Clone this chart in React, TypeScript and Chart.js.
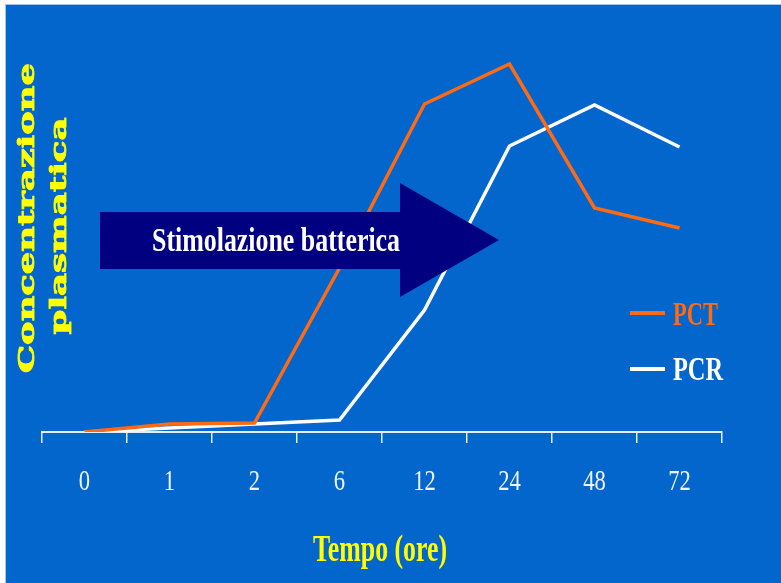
import { useEffect, useRef } from "react";
import { Chart, registerables } from "chart.js";

Chart.register(...registerables);

// Sampling times (hours) and relative plasma concentrations
const hours = ["0", "1", "2", "6", "12", "24", "48", "72"];
const pctValues = [0, 2, 2.25, 41, 82, 92, 56, 51];
const pcrValues = [0, 1, 2, 3, 30.5, 71.5, 81.75, 71.25];
const seriesNames = ["PCT", "PCR"];
const yTitleLines = ["Concentrazione", "plasmatica"];
const xTitle = "Tempo (ore)";
const arrowLabel = "Stimolazione batterica";

const BG = "#0366CC";
const ORANGE = "#FF6A12";
const WHITE = "#FFFFFF";
const YELLOW = "#FFFF00";
const NAVY = "#000080";
const AXIS = "#E4ECF8";

// Draws text centred on cx, stretched or squeezed horizontally to a given width
function fitText(
  ctx: CanvasRenderingContext2D,
  text: string,
  cx: number,
  baseline: number,
  font: string,
  width: number,
  color: string,
  outline = 0
) {
  ctx.save();
  ctx.font = font;
  const w = ctx.measureText(text).width;
  ctx.translate(cx, baseline);
  ctx.scale(width / w, 1);
  ctx.fillStyle = color;
  ctx.textAlign = "left";
  ctx.textBaseline = "alphabetic";
  ctx.fillText(text, -w / 2, 0);
  if (outline > 0) {
    ctx.strokeStyle = color;
    ctx.lineWidth = outline;
    ctx.lineJoin = "round";
    ctx.strokeText(text, -w / 2, 0);
  }
  ctx.restore();
}

function scaledText(
  ctx: CanvasRenderingContext2D,
  text: string,
  cx: number,
  baseline: number,
  font: string,
  sx: number,
  color: string
) {
  ctx.save();
  ctx.font = font;
  ctx.translate(cx, baseline);
  ctx.scale(sx, 1);
  ctx.fillStyle = color;
  ctx.textAlign = "center";
  ctx.textBaseline = "alphabetic";
  ctx.fillText(text, 0, 0);
  ctx.restore();
}

const backgroundPlugin = {
  id: "slideBackground",
  beforeDraw(chart: Chart) {
    const { ctx, width, height } = chart;
    ctx.save();
    ctx.fillStyle = "#FFFFFF";
    ctx.fillRect(0, 0, width, height);
    ctx.fillStyle = "#9FC3EC";
    ctx.fillRect(5, 4, width - 5, height - 4);
    ctx.fillStyle = BG;
    ctx.fillRect(6, 5, width - 6, height - 5);
    ctx.restore();
  },
};

const overlayPlugin = {
  id: "slideOverlay",
  afterDatasetsDraw(chart: Chart) {
    const { ctx } = chart;
    const xScale = chart.scales.x;

    // category labels under the axis
    hours.forEach((label, i) => {
      const x = xScale.getPixelForTick(i);
      scaledText(ctx, label, x, 490, "29px 'Liberation Serif'", 0.78, "#F2F4FA");
    });

    // x axis title
    fitText(ctx, xTitle, 380, 561, "bold 38px 'Liberation Serif'", 134, YELLOW);

    // y axis title, two rotated lines
    const yLines = [
      { text: yTitleLines[0], bx: 34, cy: 218, w: 310 },
      { text: yTitleLines[1], bx: 66, cy: 226, w: 217 },
    ];
    yLines.forEach((l) => {
      ctx.save();
      ctx.translate(l.bx, l.cy);
      ctx.rotate(-Math.PI / 2);
      fitText(ctx, l.text, 0, 0, "bold 22px 'DejaVu Serif'", l.w, YELLOW, 0.8);
      ctx.restore();
    });

    // "bacterial stimulation" arrow, drawn above the curves
    ctx.save();
    ctx.fillStyle = NAVY;
    ctx.beginPath();
    ctx.moveTo(100, 212);
    ctx.lineTo(400, 212);
    ctx.lineTo(400, 183);
    ctx.lineTo(499, 240);
    ctx.lineTo(400, 297);
    ctx.lineTo(400, 269);
    ctx.lineTo(100, 269);
    ctx.closePath();
    ctx.fill();
    ctx.restore();
    fitText(ctx, arrowLabel, 276, 251, "bold 34px 'Liberation Serif'", 248, WHITE);

    // legend
    const legend = [
      { ds: 0, y: 313, base: 325, w: 45 },
      { ds: 1, y: 369, base: 380, w: 50 },
    ];
    legend.forEach((item) => {
      const ds = chart.data.datasets[item.ds] as any;
      ctx.save();
      ctx.strokeStyle = ds.borderColor;
      ctx.lineWidth = 4;
      ctx.beginPath();
      ctx.moveTo(630, item.y);
      ctx.lineTo(665, item.y);
      ctx.stroke();
      ctx.restore();
      fitText(
        ctx,
        ds.label,
        673 + item.w / 2,
        item.base,
        "bold 34px 'Liberation Serif'",
        item.w,
        ds.borderColor
      );
    });
  },
};

export default function App() {
  const canvasRef = useRef<HTMLCanvasElement | null>(null);

  useEffect(() => {
    const canvas = canvasRef.current;
    if (!canvas) return;
    const chart = new Chart(canvas, {
      type: "line",
      data: {
        labels: hours,
        datasets: [
          {
            label: seriesNames[0],
            data: pctValues,
            borderColor: ORANGE,
            borderWidth: 3.5,
            pointRadius: 0,
            tension: 0,
            fill: false,
          },
          {
            label: seriesNames[1],
            data: pcrValues,
            borderColor: WHITE,
            borderWidth: 3.5,
            pointRadius: 0,
            tension: 0,
            fill: false,
          },
        ],
      },
      options: {
        responsive: false,
        animation: false,
        devicePixelRatio: 1,
        layout: { padding: { left: 42, right: 59, top: 32, bottom: 140 } },
        plugins: {
          legend: { display: false },
          tooltip: { enabled: false },
          title: { display: false },
        },
        scales: {
          x: {
            type: "category",
            offset: true,
            grid: {
              offset: true,
              drawOnChartArea: false,
              drawTicks: true,
              tickLength: 11,
              color: AXIS,
              lineWidth: 1.5,
            },
            border: { display: true, color: AXIS, width: 2 },
            ticks: { display: false },
          },
          y: {
            display: false,
            min: 0,
            max: 100,
          },
        },
      },
      plugins: [backgroundPlugin, overlayPlugin],
    });
    return () => chart.destroy();
  }, []);

  return (
    <div
      style={{
        position: "fixed",
        left: 0,
        top: 0,
        width: 781,
        height: 583,
        background: "#FFFFFF",
      }}
    >
      <canvas
        ref={canvasRef}
        width={781}
        height={583}
        style={{ display: "block", width: 781, height: 583 }}
      />
    </div>
  );
}
